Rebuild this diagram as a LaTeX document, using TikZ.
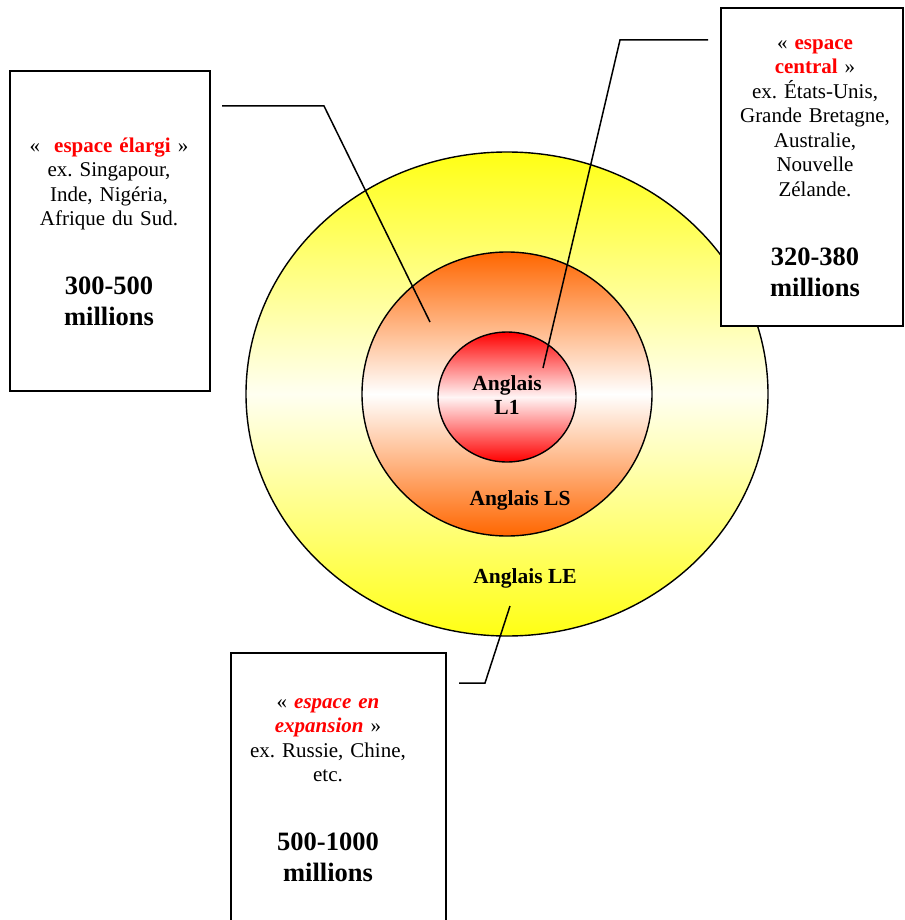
\documentclass[tikz,border=0pt]{standalone}
\usepackage{fontspec}
\setmainfont{Liberation Serif}
\usetikzlibrary{shapes.geometric}
\frenchspacing

\definecolor{jaune}{RGB}{255,255,20}
\definecolor{orange1}{RGB}{255,102,0}
\definecolor{rouge1}{RGB}{255,0,0}

\begin{document}
\begin{tikzpicture}[x=1pt, y=-1pt]
            \tikzstyle{zone} = [ellipse, draw=black, line width=1.4pt, inner sep=0pt, shading=axis]
            \tikzstyle{cadre} = [rectangle, draw=black, line width=1.8pt, fill=white]
            \tikzstyle{texte} = [text width=200pt, align=center, inner sep=0pt, font=\fontsize{21}{24.5}\selectfont]
            \tikzstyle{etiquette} = [font=\fontsize{21.5}{24.5}\selectfont\bfseries, align=center, inner sep=0pt]
            \tikzstyle{edge} = [line width=1.5pt]

            \useasboundingbox (0,0) rectangle (904,920);
            \clip (0,0) rectangle (904,920);

            \node[zone, minimum width=522pt, minimum height=484pt, top color=jaune, bottom color=jaune, middle color=jaune!6] (le) at (507,394) {};
            \node[zone, minimum width=290pt, minimum height=284pt, top color=orange1, bottom color=orange1, middle color=white] (ls) at (507,394) {};
            \node[zone, minimum width=138pt, minimum height=130pt, top color=rouge1, bottom color=rouge1, middle color=rouge1!4] (l1) at (507,397) {};
            \node[etiquette] (tl1) at (507,395) {Anglais\\L1};
            \node[etiquette] (tls) at (520,500) {Anglais LS};
            \node[etiquette] (tle) at (525,578) {Anglais LE};

            \node[cadre, minimum width=200pt, minimum height=320pt] (gauche) at (110,231) {};
            \node[cadre, minimum width=182pt, minimum height=318pt] (droite) at (812,167) {};
            \node[cadre, minimum width=215pt, minimum height=290pt] (bas) at (338.5,798) {};

            \node[texte] (tgauche) at (109,232) {«~~\textcolor{red}{\bfseries espace élargi} »\\ ex. Singapour,\\ Inde, Nigéria,\\ Afrique du Sud.\par
                \vspace{38pt}{\fontsize{26.5}{31}\selectfont\bfseries 300-500\\ millions\par}};
            \node[texte] (tdroite) at (815,168) {« \textcolor{red}{\bfseries espace}\\ \textcolor{red}{\bfseries central} »\\ ex. États-Unis,\\ Grande Bretagne,\\ Australie,\\ Nouvelle\\ Zélande.\par
                \vspace{38pt}{\fontsize{26.5}{31}\selectfont\bfseries 320-380\\ millions\par}};
            \node[texte] (tbas) at (328,790) {« \textcolor{red}{\bfseries\itshape espace en}\\ \textcolor{red}{\bfseries\itshape expansion} »\\ ex. Russie, Chine,\\ etc.\par
                \vspace{38pt}{\fontsize{26.5}{31}\selectfont\bfseries 500-1000\\ millions\par}};

            % lignes de rappel
            \coordinate (g0) at (222,106);
            \coordinate (g1) at (324,106);
            \coordinate (g2) at (430,322);
            \coordinate (d0) at (708,40);
            \coordinate (d1) at (620,40);
            \coordinate (d2) at (543,368);
            \coordinate (b0) at (459,683);
            \coordinate (b1) at (485,683);
            \coordinate (b2) at (510,606);
            \draw[edge] (g0)--(g1)--(g2);
            \draw[edge] (d0)--(d1)--(d2);
            \draw[edge] (b0)--(b1)--(b2);
        \end{tikzpicture}
\end{document}
